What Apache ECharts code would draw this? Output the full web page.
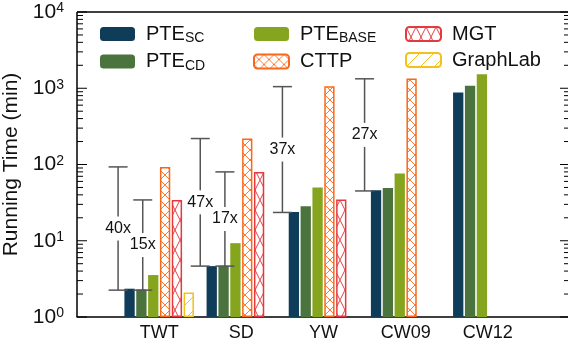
<!DOCTYPE html>
<html><head><meta charset="utf-8">
<script src="https://cdn.jsdelivr.net/npm/echarts@6/dist/echarts.min.js"></script>
<style>html,body{margin:0;padding:0;background:#fff}#c{width:568px;height:345px}</style>
</head><body><div id="c"></div>
<script>
// ---- data ----
const categories = ['TWT', 'SD', 'YW', 'CW09', 'CW12'];
const pteSC    = [2.35, 4.65, 23.9, 46, 880];
const pteCD    = [2.3, 4.7, 28.4, 49, 1075];
const pteBASE  = [3.55, 9.3, 50, 76, 1530];
const cttp     = [93, 219, 1066, 1345, null];
const mgt      = [34.3, 80, 34.7, null, null];
const graphLab = [2.1, null, null, null, null];

const bracketCategory = ['TWT', 'TWT', 'SD', 'SD', 'YW', 'CW09'];
const bracketKind     = ['outer', 'inner', 'outer', 'inner', 'outer', 'outer'];
const bracketLow      = [2.25, 2.25, 4.65, 4.65, 23.5, 45];
const bracketHigh     = [93, 34.3, 219, 80, 1050, 1330];
const bracketLabel    = ['40x', '15x', '47x', '17x', '37x', '27x'];

const yMin = 1, yMax = 10000;
const majorTickValues = [1, 10, 100, 1000, 10000];

// ---- helpers ----
const FONT = '"Liberation Sans", Arial, Helvetica, sans-serif';
function pattern(w, h, color, lw, draw) {
  const c = document.createElement('canvas');
  c.width = w; c.height = h;
  const g = c.getContext('2d');
  g.fillStyle = '#fff'; g.fillRect(0, 0, w, h);
  g.strokeStyle = color; g.lineWidth = lw;
  g.beginPath(); draw(g, w, h); g.stroke();
  return { image: c, repeat: 'repeat' };
}
const cttpFill = pattern(10, 10, '#ff7b33', 1, (g, w, h) => { g.moveTo(0, 0); g.lineTo(w, h); g.moveTo(w, 0); g.lineTo(0, h); });
const mgtFill = pattern(10, 20, '#e4454a', 1, (g, w, h) => { g.moveTo(0, 0); g.lineTo(w, h); g.moveTo(w, 0); g.lineTo(0, h); });
const glFill = pattern(14, 14, '#f0c020', 1, (g, w, h) => { g.moveTo(0, h); g.lineTo(w, 0); });

function pairs(arr) {
  const out = [];
  arr.forEach((v, i) => { if (v != null) out.push([categories[i], v]); });
  return out;
}
const xCats = [''].concat(categories, ['']);

const minorTickValues = [];
for (let e = 0; e < 4; e++) for (let m = 2; m <= 9; m++) minorTickValues.push(m * Math.pow(10, e));

const BW = 10.3;
function barSeries(name, arr, itemStyle) {
  return { name, type: 'bar', data: pairs(arr), barWidth: BW, barGap: '15%', itemStyle, z: 2 };
}

const legendText = {
  fontFamily: FONT, fontSize: 20, color: '#111',
  rich: {
    m: { fontFamily: FONT, fontSize: 20, color: '#111', padding: [0, 0, 0, 6] },
    s: { fontFamily: FONT, fontSize: 14, color: '#111', padding: [9, 0, 0, 0] }
  }
};
function legendFmt(n) {
  const map = { 'PTE_SC': '{m|PTE}{s|SC}', 'PTE_CD': '{m|PTE}{s|CD}', 'PTE_BASE': '{m|PTE}{s|BASE}' };
  return map[n] || '{m|' + n + '}';
}
function mkLegend(left, names) {
  return { data: names, orient: 'vertical', left, top: 24, padding: 0, itemWidth: 35, itemHeight: 14,
           itemGap: 6, textStyle: legendText, formatter: legendFmt, selectedMode: false };
}

const tickData = majorTickValues.map(v => [0, v, 10]).concat(minorTickValues.map(v => [0, v, 6]));

const chart = echarts.init(document.getElementById('c'));
chart.setOption({
  animation: false,
  backgroundColor: '#fff',
  textStyle: { fontFamily: FONT },
  legend: [
    mkLegend(100, ['PTE_SC', 'PTE_CD']),
    mkLegend(253, ['PTE_BASE', 'CTTP']),
    mkLegend(405, ['MGT', 'GraphLab'])
  ],
  grid: { left: 77, right: -2, top: 12, bottom: 28, containLabel: false, outerBoundsMode: 'none' },
  xAxis: [
    { type: 'category', data: xCats, boundaryGap: false, position: 'bottom',
      axisLine: { onZero: false, lineStyle: { color: '#000', width: 1.5 } }, axisTick: { show: false },
      axisLabel: { interval: 0, fontSize: 18, color: '#111', margin: 7, fontFamily: FONT } }
  ],
  yAxis: [
    { type: 'log', min: yMin, max: yMax, logBase: 10, position: 'left',
      name: 'Running Time (min)', nameLocation: 'middle', nameGap: 45,
      nameTextStyle: { fontSize: 21, color: '#111', fontFamily: FONT },
      axisLine: { show: false, onZero: false }, axisTick: { show: false },
      splitLine: { show: false },
      axisLabel: {
        margin: 13, color: '#111',
        formatter: v => '{b|10}{s|' + Math.round(Math.log10(v)) + '}',
        rich: {
          b: { fontSize: 21, fontFamily: FONT, color: '#111', lineHeight: 21, verticalAlign: 'bottom' },
          s: { fontSize: 14, fontFamily: FONT, color: '#111', lineHeight: 14, padding: [0, 0, 12, 0], verticalAlign: 'top' }
        }
      } }
  ],
  series: [
    barSeries('PTE_SC', pteSC, { color: '#0f3c58' }),
    barSeries('PTE_CD', pteCD, { color: '#4a733d' }),
    barSeries('PTE_BASE', pteBASE, { color: '#86a51f' }),
    barSeries('CTTP', cttp, { color: cttpFill, borderColor: '#f7681c', borderWidth: 1.5 }),
    barSeries('MGT', mgt, { color: mgtFill, borderColor: '#e23a3f', borderWidth: 1.5 }),
    barSeries('GraphLab', graphLab, { color: glFill, borderColor: '#f2c21a', borderWidth: 1.5 }),
    {
      type: 'custom', name: 'frame', silent: true, z: 4,
      data: [[0, yMin]],
      encode: { x: 0, y: 1 },
      renderItem: (params, api) => {
        const cs = params.coordSys;
        const st = { stroke: '#000', lineWidth: 1.5 };
        return { type: 'group', children: [
          { type: 'line', shape: { x1: cs.x, y1: cs.y, x2: cs.x, y2: cs.y + cs.height }, style: st },
          { type: 'line', shape: { x1: cs.x + cs.width, y1: cs.y, x2: cs.x + cs.width, y2: cs.y + cs.height }, style: st },
          { type: 'line', shape: { x1: cs.x, y1: cs.y, x2: cs.x + cs.width, y2: cs.y }, style: st }
        ] };
      }
    },
    {
      type: 'custom', name: 'ticks', silent: true, z: 3,
      data: tickData,
      encode: { x: 0, y: 1 },
      renderItem: (params, api) => {
        const y = api.coord([0, api.value(1)])[1];
        const len = api.value(2);
        const cs = params.coordSys;
        const st = { stroke: '#000', lineWidth: 1 };
        return { type: 'group', children: [
          { type: 'line', shape: { x1: cs.x, y1: y, x2: cs.x + len, y2: y }, style: st },
          { type: 'line', shape: { x1: cs.x + cs.width - len, y1: y, x2: cs.x + cs.width, y2: y }, style: st }
        ] };
      }
    },
    {
      type: 'custom', name: 'brackets', silent: true, z: 5,
      data: bracketCategory.map((c, i) => [c, bracketLow[i], bracketHigh[i], i]),
      encode: { x: 0, y: [1, 2] },
      renderItem: (params, api) => {
        const i = api.value(3);
        const lo = api.coord([api.value(0), api.value(1)]);
        const hi = api.coord([api.value(0), api.value(2)]);
        const band = api.size([1, 0])[0];
        const x = lo[0] + (bracketKind[i] === 'outer' ? -0.5 : -0.2) * band;
        const cap = 9.5;
        const st = { stroke: '#555', lineWidth: 1.5 };
        const midY = (lo[1] + hi[1]) / 2;
        return { type: 'group', children: [
          { type: 'line', shape: { x1: x, y1: lo[1], x2: x, y2: hi[1] }, style: st },
          { type: 'line', shape: { x1: x - cap, y1: lo[1], x2: x + cap, y2: lo[1] }, style: st },
          { type: 'line', shape: { x1: x - cap, y1: hi[1], x2: x + cap, y2: hi[1] }, style: st },
          { type: 'text', x: x, y: midY, z2: 10,
            style: { text: bracketLabel[i], fill: '#111', fontSize: 16, fontFamily: FONT,
                     align: 'center', verticalAlign: 'middle', backgroundColor: '#fff', padding: [4, 1] } }
        ] };
      }
    }
  ]
});
</script></body></html>
